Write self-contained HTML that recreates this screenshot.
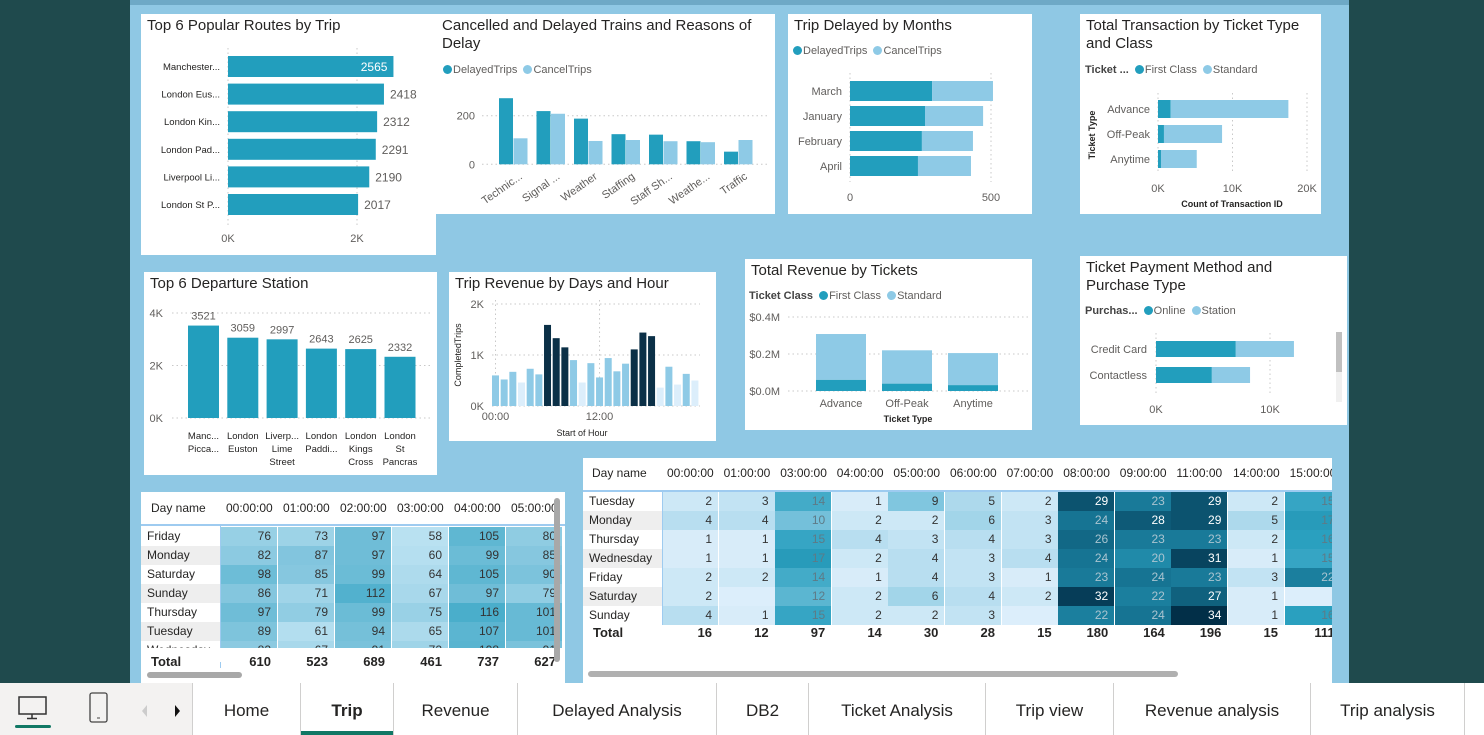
<!DOCTYPE html>
<html><head><meta charset="utf-8">
<style>
*{box-sizing:border-box;margin:0;padding:0}
html,body{width:1484px;height:735px;overflow:hidden}
body{background:#1f4a4d;font-family:"Liberation Sans",sans-serif;position:relative}
#canvas{position:absolute;left:130px;top:0;width:1219px;height:683px;background:#8fc8e4}
#topstrip{position:absolute;left:130px;top:0;width:1219px;height:5px;background:#6ea9c6}
.panel{position:absolute;background:#fff}
.title{position:absolute;left:6px;top:3px;font-size:15px;color:#252423;line-height:18px}
.legend{position:absolute;font-size:11px;color:#605e5c;white-space:nowrap}
.legend b{color:#444;font-weight:bold}
.dot{display:inline-block;width:9px;height:9px;border-radius:50%;vertical-align:-1px;margin:0 1px 0 3px}
.d1{background:#229ebd}.d2{background:#8ecae6}
#charts{position:absolute;left:0;top:0}
#tabbar{position:absolute;left:0;top:683px;width:1484px;height:52px;background:#fff;overflow:hidden}
#tableft{position:absolute;left:0;top:0;width:192px;height:52px;background:#f3f2f1}
.tab{position:absolute;top:0;height:52px;line-height:56px;text-align:center;font-size:17px;color:#252423;border-left:1px solid #d0cfce}
.tab.active{font-weight:bold}
.tab.active:after{content:"";position:absolute;left:0;right:0;bottom:0;height:4px;background:#117865}
.tbl{position:absolute;overflow:hidden;background:#fff}
.cell{position:absolute;font-size:12px;text-align:right;padding-right:6px;line-height:19px;height:19px}
.rl{position:absolute;font-size:12px;color:#252423;padding-left:6px;line-height:19px;height:19px}
.hd{position:absolute;font-size:12px;color:#252423;line-height:20px}
</style></head><body>
<div id="canvas"></div>
<div id="topstrip"></div>

<div class="panel" style="left:141px;top:14px;width:295px;height:241px"><div class="title">Top 6 Popular Routes by Trip</div></div>
<div class="panel" style="left:436px;top:14px;width:339px;height:200px"><div class="title">Cancelled and Delayed Trains and Reasons of<br>Delay</div>
<div class="legend" style="left:4px;top:50px"><span class="dot d1"></span>DelayedTrips <span class="dot d2"></span>CancelTrips</div></div>
<div class="panel" style="left:788px;top:14px;width:244px;height:200px"><div class="title">Trip Delayed by Months</div>
<div class="legend" style="left:2px;top:31px"><span class="dot d1"></span>DelayedTrips <span class="dot d2"></span>CancelTrips</div></div>
<div class="panel" style="left:1080px;top:14px;width:241px;height:200px"><div class="title">Total Transaction by Ticket Type<br>and Class</div>
<div class="legend" style="left:5px;top:50px"><b>Ticket ...</b> <span class="dot d1"></span>First Class <span class="dot d2"></span>Standard</div></div>
<div class="panel" style="left:144px;top:272px;width:293px;height:203px"><div class="title">Top 6 Departure Station</div></div>
<div class="panel" style="left:449px;top:272px;width:267px;height:169px"><div class="title">Trip Revenue by Days and Hour</div></div>
<div class="panel" style="left:745px;top:259px;width:287px;height:171px"><div class="title">Total Revenue by Tickets</div>
<div class="legend" style="left:4px;top:31px"><b>Ticket Class</b> <span class="dot d1"></span>First Class <span class="dot d2"></span>Standard</div></div>
<div class="panel" style="left:1080px;top:256px;width:267px;height:169px"><div class="title">Ticket Payment Method and<br>Purchase Type</div>
<div class="legend" style="left:5px;top:49px"><b>Purchas...</b> <span class="dot d1"></span>Online <span class="dot d2"></span>Station</div>
<div style="position:absolute;left:256px;top:76px;width:6px;height:70px;background:#f0f0f0"><div style="width:6px;height:40px;background:#c0c0c0"></div></div></div>

<div class="tbl" id="lt" style="left:141px;top:492px;width:424px;height:191px"></div>
<div class="tbl" id="rt" style="left:583px;top:458px;width:749px;height:225px"></div>

<svg id="charts" width="1484" height="735"></svg>

<div id="tabbar">
<div id="tableft">
<svg width="192" height="52" style="position:absolute;left:0;top:0">
<rect x="19" y="14" width="27" height="17" fill="none" stroke="#333" stroke-width="1.5"/>
<line x1="32" y1="31" x2="32" y2="35" stroke="#333" stroke-width="1.5"/><line x1="27" y1="35.5" x2="37" y2="35.5" stroke="#333" stroke-width="1.5"/>
<rect x="15" y="42" width="36" height="3" rx="1.5" fill="#117865"/>
<rect x="90" y="10" width="17" height="29" rx="2" fill="none" stroke="#444" stroke-width="1.3"/>
<line x1="97" y1="35" x2="100" y2="35" stroke="#444"/>
<polygon points="147,22 142,28 147,34" fill="#ccc"/>
<polygon points="175,22 180,28 175,34" fill="#111"/>
</svg></div>
<div class="tab" style="left:192px;width:108px">Home</div>
<div class="tab active" style="left:300px;width:93px">Trip</div>
<div class="tab" style="left:393px;width:124px">Revenue</div>
<div class="tab" style="left:517px;width:199px">Delayed Analysis</div>
<div class="tab" style="left:716px;width:92px">DB2</div>
<div class="tab" style="left:808px;width:177px">Ticket Analysis</div>
<div class="tab" style="left:985px;width:128px">Trip view</div>
<div class="tab" style="left:1113px;width:197px">Revenue analysis</div>
<div class="tab" style="left:1310px;width:155px;border-right:1px solid #d0cfce">Trip analysis</div>
</div>

<script>
const routeNames=['Manchester...','London Eus...','London Kin...','London Pad...','Liverpool Li...','London St P...'];
const routeTrips=[2565,2418,2312,2291,2190,2017];
const routeTicks=['0K','2K'];
const reasons=['Technic...','Signal ...','Weather','Staffing','Staff Sh...','Weathe...','Traffic'];
const reasonDelayed=[272,219,188,124,122,95,52];
const reasonCancel=[107,208,96,100,95,91,100];
const reasonTicks=[0,200];
const months=['March','January','February','April'];
const monthDelayed=[291,266,255,241];
const monthCancel=[216,206,181,188];
const monthTicks=[0,500];
const ticketTypes=['Advance','Off-Peak','Anytime'];
const txFirst=[1700,800,400];
const txStandard=[15800,7800,4800];
const txTicks=[0,10000,20000];
const stations=[['Manc...','Picca...'],['London','Euston'],['Liverp...','Lime','Street'],['London','Paddi...'],['London','Kings','Cross'],['London','St','Pancras']];
const stationTrips=[3521,3059,2997,2643,2625,2332];
const stationTicks=[0,2000,4000];
const hourTrips=[600,520,670,460,730,620,1590,1330,1150,900,460,840,560,940,680,830,1110,1440,1370,360,770,420,630,500];
const hourTicks=[0,1000,2000];
const revTypes=['Advance','Off-Peak','Anytime'];
const revFirst=[0.061,0.04,0.032];
const revStandard=[0.247,0.18,0.173];
const revTicks=[0,0.2,0.4];
const payMethods=['Credit Card','Contactless'];
const payOnline=[7000,4900];
const payStation=[5100,3350];
const payTicks=[0,10000];
const leftDays=['Friday','Monday','Saturday','Sunday','Thursday','Tuesday','Wednesday'];
const leftHours=['00:00:00','01:00:00','02:00:00','03:00:00','04:00:00','05:00:00'];
const leftVals=[[76,73,97,58,105,80],[82,87,97,60,99,85],[98,85,99,64,105,90],[86,71,112,67,97,79],[97,79,99,75,116,101],[89,61,94,65,107,101],[82,67,91,72,108,91]];
const leftTotals=[610,523,689,461,737,627];
const rightDays=['Tuesday','Monday','Thursday','Wednesday','Friday','Saturday','Sunday'];
const rightHours=['00:00:00','01:00:00','03:00:00','04:00:00','05:00:00','06:00:00','07:00:00','08:00:00','09:00:00','11:00:00','14:00:00','15:00:00'];
const rightVals=[[2,3,14,1,9,5,2,29,23,29,2,15],[4,4,10,2,2,6,3,24,28,29,5,17],[1,1,15,4,3,4,3,26,23,23,2,16],[1,1,17,2,4,3,4,24,20,31,1,15],[2,2,14,1,4,3,1,23,24,23,3,22],[2,null,12,2,6,4,2,32,22,27,1,null],[4,1,15,2,2,3,null,22,24,34,1,16]];
const rightTotals=[16,12,97,14,30,28,15,180,164,196,15,111];

const NS='http://www.w3.org/2000/svg';
const svg=document.getElementById('charts');
const C1='#229ebd',C2='#8ecae6',GRAY='#605e5c';
function mk(tag,a){const e=document.createElementNS(NS,tag);for(const k in a)e.setAttribute(k,a[k]);svg.appendChild(e);return e;}
function tx(x,y,s,anchor,size,fill,extra){const e=mk('text',Object.assign({x:x,y:y,'text-anchor':anchor||'start','font-size':size||11,fill:fill||GRAY,'font-family':'Liberation Sans, sans-serif'},extra||{}));e.textContent=s;return e;}
function grid(x1,y1,x2,y2){return mk('line',{x1:x1,y1:y1,x2:x2,y2:y2,stroke:'#c8c8c8','stroke-dasharray':'1.5,3'});}
const fmtK=v=>(v/1000)+'K';

const xR=v=>228+v*129/2000;
routeTicks.forEach((t,i)=>{const v=i*2000;const g=grid(xR(v),48,xR(v),228);const l=tx(xR(v),242,t,'middle',11);});
routeTrips.forEach((v,i)=>{const y=56+i*27.6;const r=mk('rect',{x:xR(0),y:y,width:xR(v)-xR(0),height:21,fill:C1});
const n=tx(220,y+14,routeNames[i],'end',9.5,'#252423');
const inside=(i===0);const vl=tx(inside?xR(v)-6:xR(v)+6,y+15,String(v),inside?'end':'start',12,inside?'#fff':GRAY);});

const yC=v=>164.3-v*0.243;
reasonTicks.forEach(t=>{const g=grid(482,yC(t),770,yC(t));const l=tx(475,yC(t)+4,String(t),'end',11);});
reasons.forEach((r,i)=>{const x=499+i*37.5;
const a=mk('rect',{x:x,y:yC(reasonDelayed[i]),width:14,height:yC(0)-yC(reasonDelayed[i]),fill:C1});
const b=mk('rect',{x:x+14.5,y:yC(reasonCancel[i]),width:14,height:yC(0)-yC(reasonCancel[i]),fill:C2});
const l=tx(x+24,178,r,'end',11,GRAY,{transform:'rotate(-35 '+(x+24)+' 178)'});});

const xM=v=>850+v*0.282;
monthTicks.forEach(t=>{const g=grid(xM(t),73,xM(t),182);const l=tx(xM(t),201,String(t),'middle',11);});
months.forEach((m,i)=>{const y=81+i*25;
const a=mk('rect',{x:xM(0),y:y,width:xM(monthDelayed[i])-xM(0),height:20,fill:C1});
const b=mk('rect',{x:xM(monthDelayed[i]),y:y,width:xM(monthDelayed[i]+monthCancel[i])-xM(monthDelayed[i]),height:20,fill:C2});
const l=tx(842,y+14,m,'end',11);});

const xT=v=>1158+v*7.45/1000;
txTicks.forEach(t=>{const g=grid(xT(t),93,xT(t),172);const l=tx(xT(t),192,fmtK(t),'middle',11);});
ticketTypes.forEach((t,i)=>{const y=100+i*25;
const a=mk('rect',{x:xT(0),y:y,width:xT(txFirst[i])-xT(0),height:18,fill:C1});
const b=mk('rect',{x:xT(txFirst[i]),y:y,width:xT(txFirst[i]+txStandard[i])-xT(txFirst[i]),height:18,fill:C2});
const l=tx(1150,y+13,t,'end',11);});
{const a=tx(1232,207,'Count of Transaction ID','middle',9,'#252423',{'font-weight':'bold'});
const b=tx(1095,135,'Ticket Type','middle',9,'#252423',{'font-weight':'bold',transform:'rotate(-90 1095 135)'});}

const yD=v=>418-v*26.25/1000;
stationTicks.forEach(t=>{const g=grid(172,yD(t),432,yD(t));const l=tx(163,yD(t)+4,fmtK(t),'end',11);});
stationTrips.forEach((v,i)=>{const x=188+i*39.3;
const r=mk('rect',{x:x,y:yD(v),width:31,height:yD(0)-yD(v),fill:C1});
const vl=tx(x+15.5,yD(v)-6,String(v),'middle',11);
stations[i].forEach((s,j)=>{const l=tx(x+15.5,439+j*13,s,'middle',9.5,'#252423');});});

const yH=v=>406-v*51/1000;
hourTicks.forEach(t=>{const g=grid(492,yH(t),700,yH(t));const l=tx(484,yH(t)+4,fmtK(t),'end',11);});
[0,12].forEach(h=>{const x=492+h*8.67+3.5;const g=grid(x,300,x,406);const l=tx(x,420,(h<10?'0':'')+h+':00','middle',11);});
hourTrips.forEach((v,i)=>{const col=v>=1000?'#0b3047':(v<=500?'#dceefb':C2);const r=mk('rect',{x:492+i*8.67,y:yH(v),width:7,height:yH(0)-yH(v),fill:col});});
{const a=tx(582,436,'Start of Hour','middle',9,'#252423');
const b=tx(461,355,'CompletedTrips','middle',9,'#252423',{transform:'rotate(-90 461 355)'});}

const yV=v=>391-v*185;
revTicks.forEach(t=>{const g=grid(788,yV(t),1028,yV(t));const l=tx(780,yV(t)+4,'$'+t.toFixed(1)+'M','end',11);});
revTypes.forEach((t,i)=>{const x=816+i*66;
const a=mk('rect',{x:x,y:yV(revFirst[i]),width:50,height:yV(0)-yV(revFirst[i]),fill:C1});
const b=mk('rect',{x:x,y:yV(revFirst[i]+revStandard[i]),width:50,height:yV(revFirst[i])-yV(revFirst[i]+revStandard[i]),fill:C2});
const l=tx(x+25,407,t,'middle',11);});
{const a=tx(908,422,'Ticket Type','middle',9,'#252423',{'font-weight':'bold'});}

const xP=v=>1156+v*11.4/1000;
payTicks.forEach(t=>{const g=grid(xP(t),333,xP(t),395);const l=tx(xP(t),413,fmtK(t),'middle',11);});
payMethods.forEach((m,i)=>{const y=341+i*26;
const a=mk('rect',{x:xP(0),y:y,width:xP(payOnline[i])-xP(0),height:16,fill:C1});
const b=mk('rect',{x:xP(payOnline[i]),y:y,width:xP(payOnline[i]+payStation[i])-xP(payOnline[i]),height:16,fill:C2});
const l=tx(1147,y+12,m,'end',11);});

function lerp(a,b,t){return Math.round(a+(b-a)*t);}
function hex2(c){return [1,3,5].map(k=>parseInt(c.substr(k,2),16));}
function scale(stops,v){for(let i=0;i<stops.length-1;i++){const[a,ca]=stops[i],[b,cb]=stops[i+1];if(v<=b||i===stops.length-2){const t=Math.max(0,Math.min(1,(v-a)/(b-a)));const A=hex2(ca),B=hex2(cb);return 'rgb('+lerp(A[0],B[0],t)+','+lerp(A[1],B[1],t)+','+lerp(A[2],B[2],t)+')';}}}
function div(parent,cls,css,text){const d=document.createElement('div');d.className=cls;d.style.cssText=css;if(text!==undefined)d.textContent=text;parent.appendChild(d);return d;}

const lt=document.getElementById('lt');
{const h=div(lt,'hd','left:10px;top:6px','Day name');}
leftHours.forEach((hh,j)=>{const h=div(lt,'hd','left:'+(85+j*57)+'px;top:6px',hh);});
div(lt,'','position:absolute;left:0;top:32px;width:424px;height:2px;background:#9ecbf0');
div(lt,'','position:absolute;left:79px;top:34px;width:1px;height:142px;background:#9ecbf0');
const LS=[[58,'#b9e1f1'],[85,'#86c7df'],[116,'#4aaecb']];
leftDays.forEach((d,i)=>{const top=35+i*19;const r=div(lt,'rl','left:0;top:'+top+'px;width:79px;background:'+(i%2?'#eeeeee':'#fff'),d);
leftVals[i].forEach((v,j)=>{const c=div(lt,'cell','left:'+(80+j*57)+'px;top:'+top+'px;width:56px;color:#333;background:'+scale(LS,v),String(v));});});
div(lt,'','position:absolute;left:0;top:156px;width:424px;height:14px;background:#fff');
{const t=div(lt,'rl','left:4px;top:160px;font-weight:bold;font-size:13px','Total');}
leftTotals.forEach((v,j)=>{const c=div(lt,'cell','left:'+(80+j*57)+'px;top:160px;width:56px;font-weight:bold;font-size:13px;color:#252423',String(v));});
{const s=div(lt,'','position:absolute;left:413px;top:6px;width:6px;height:164px;background:#a8a8a8;border-radius:3px');
const s2=div(lt,'','position:absolute;left:6px;top:180px;width:95px;height:6px;background:#a8a8a8;border-radius:3px');}

const rt=document.getElementById('rt');
{const h=div(rt,'hd','left:9px;top:5px','Day name');}
rightHours.forEach((hh,j)=>{const h=div(rt,'hd','left:'+(84+j*56.6)+'px;top:5px',hh);});
div(rt,'','position:absolute;left:0;top:32px;width:749px;height:2px;background:#9ecbf0');
const RS=[[0,'#e3f1fc'],[8,'#8ccbe3'],[16,'#2aa0bf'],[25,'#146f8e'],[34,'#022f48']];
rightDays.forEach((d,i)=>{const top=34+i*19;const r=div(rt,'rl','left:0;top:'+top+'px;width:79px;background:'+(i%2?'#eeeeee':'#fff'),d);
rightVals[i].forEach((v,j)=>{const bg=v===null?'#dceefb':scale(RS,v);const col=v>=27?'#fff':(v>=18?'#a9c4d0':(v>=10?'#5e7a86':'#333'));const c=div(rt,'cell','left:'+(79+j*56.6)+'px;top:'+top+'px;width:56px;color:'+col+';background:'+bg,v===null?'':String(v));});});
div(rt,'','position:absolute;left:79px;top:34px;width:1px;height:133px;background:#9ecbf0');
{const t=div(rt,'rl','left:4px;top:165px;font-weight:bold;font-size:13px','Total');}
rightTotals.forEach((v,j)=>{const c=div(rt,'cell','left:'+(79+j*56.6)+'px;top:165px;width:56px;font-weight:bold;font-size:13px;color:#252423',String(v));});
{const s=div(rt,'','position:absolute;left:5px;top:213px;width:590px;height:6px;background:#b0b0b0;border-radius:3px');}
</script>
</body></html>
